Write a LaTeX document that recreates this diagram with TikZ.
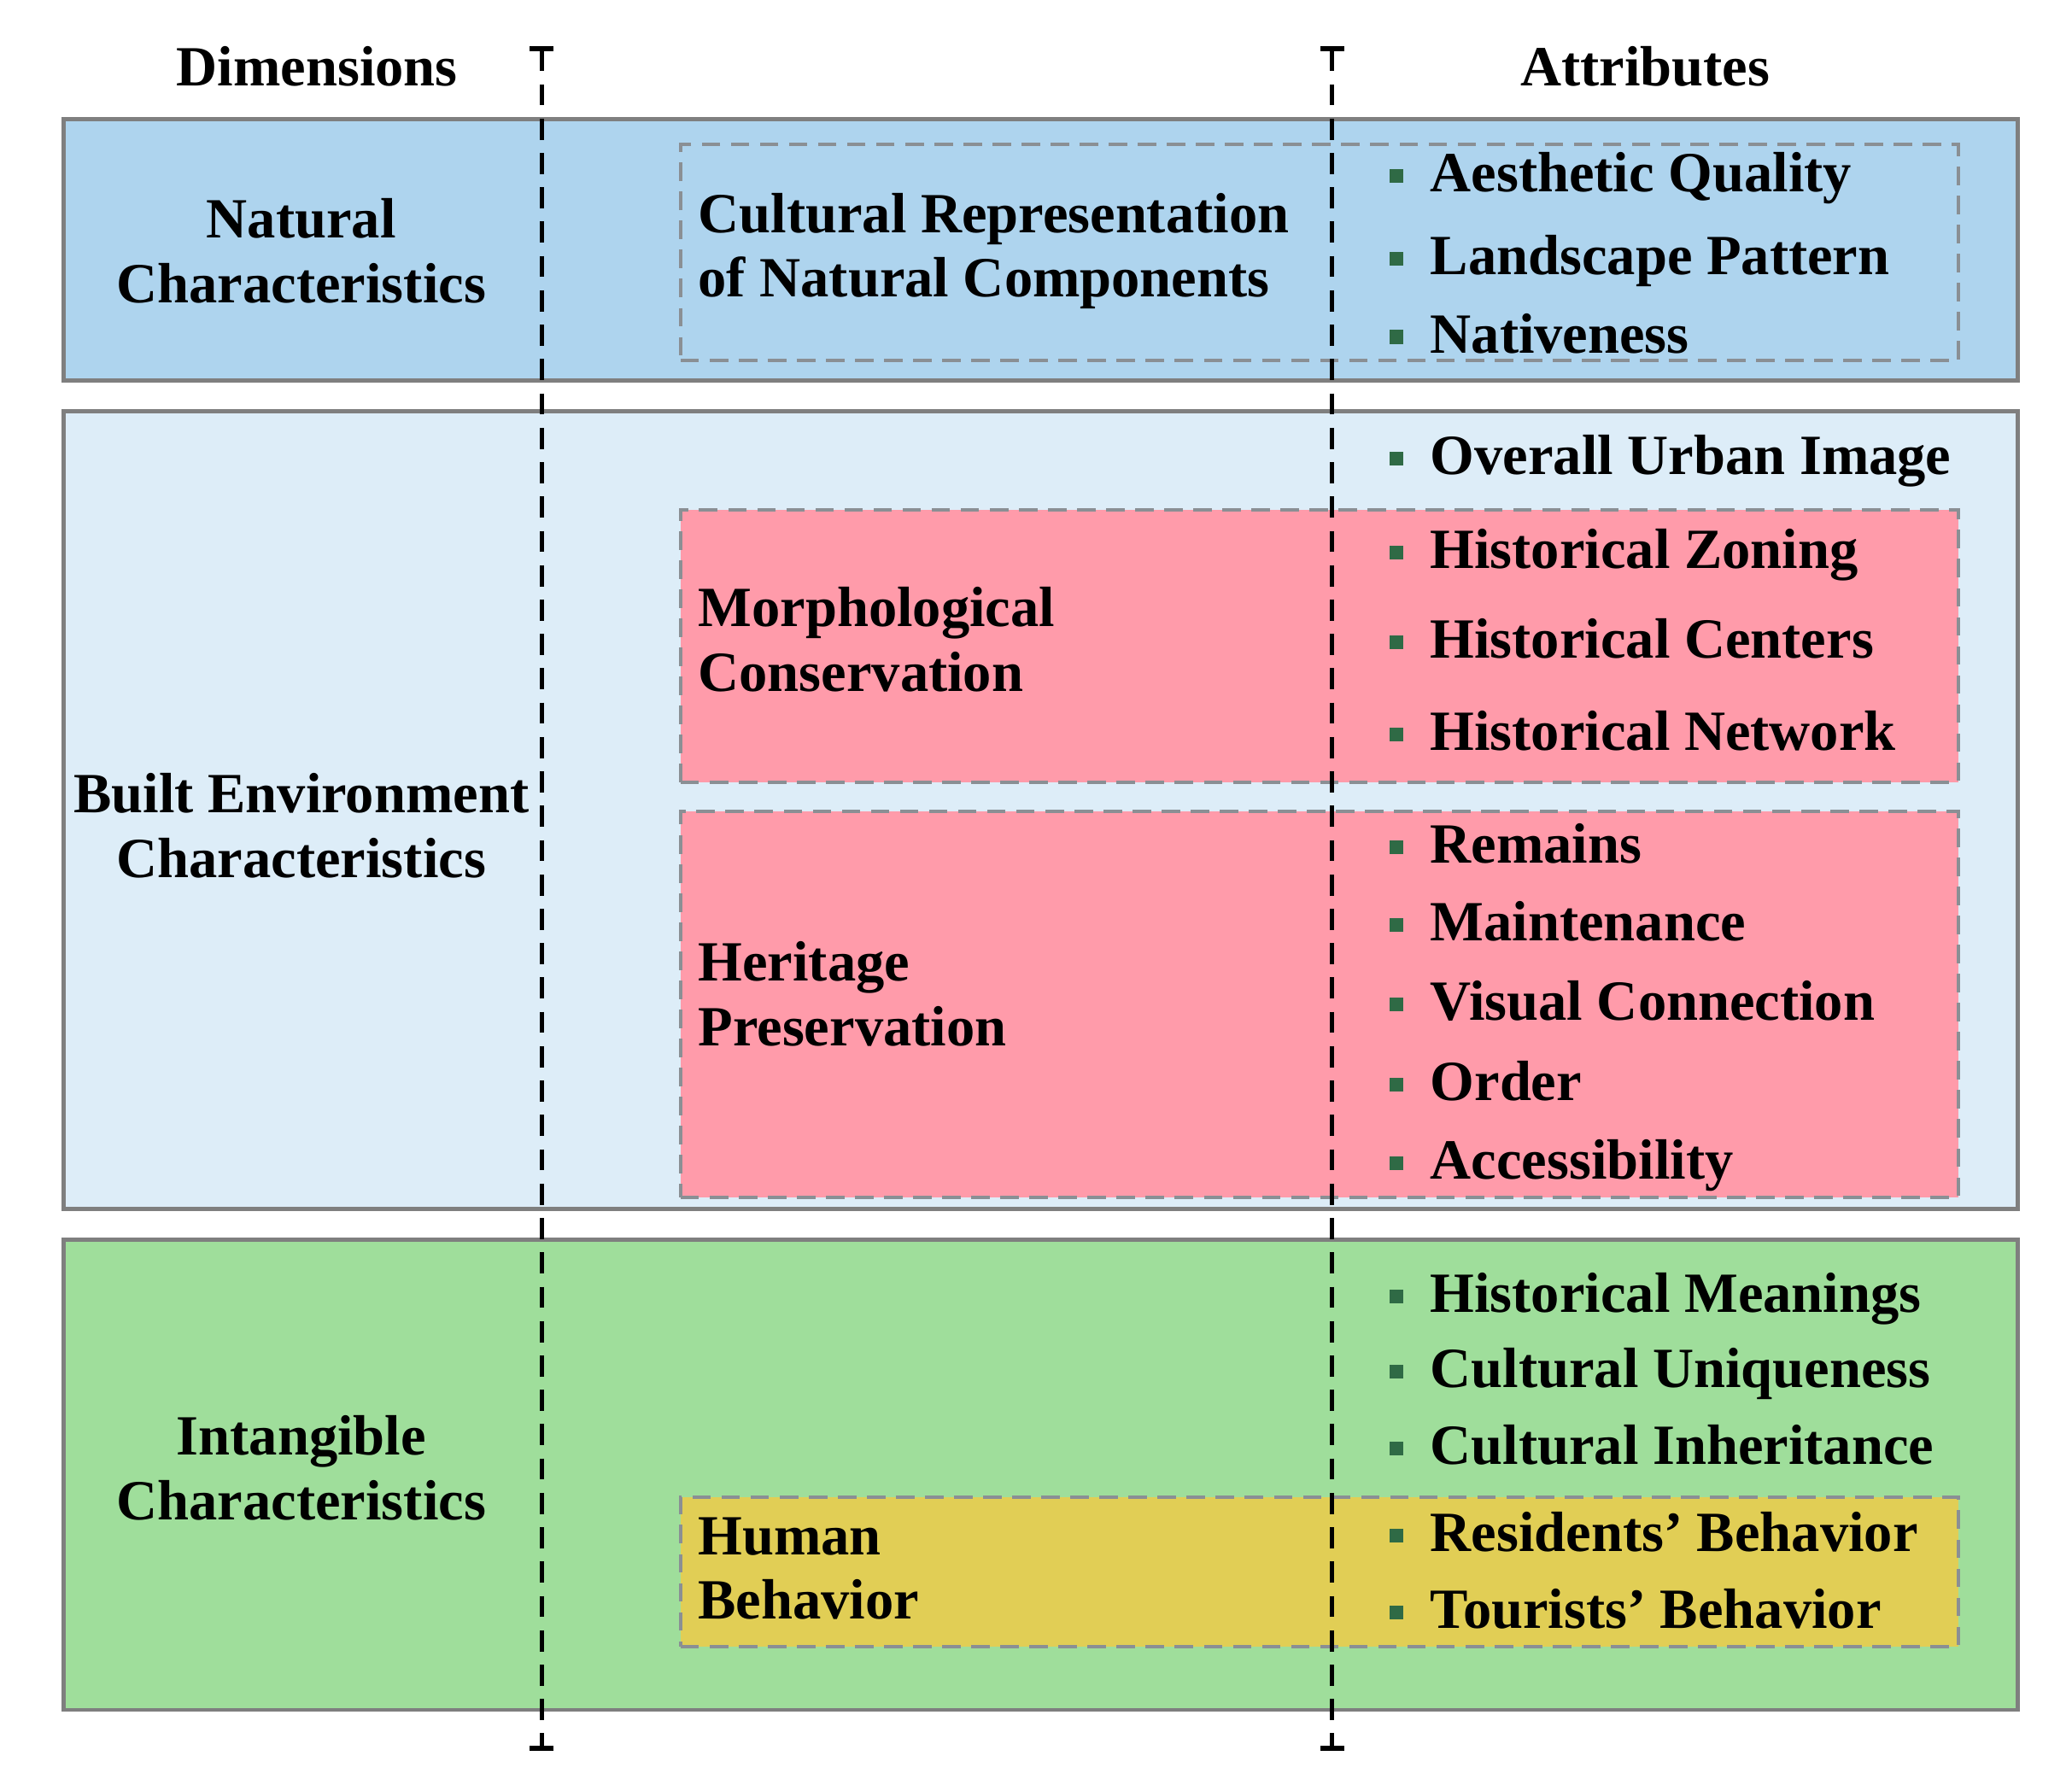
\documentclass[tikz,border=0pt]{standalone}
\usepackage{fontspec}
\setmainfont{Liberation Serif}
\usetikzlibrary{arrows.meta}
\definecolor{natfill}{HTML}{AED4EE}
\definecolor{builtfill}{HTML}{DDEDF8}
\definecolor{intfill}{HTML}{9FDE9B}
\definecolor{pinkfill}{HTML}{FF9BAA}
\definecolor{yelfill}{HTML}{E1CE55}
\definecolor{boxline}{HTML}{7F7F7F}
\definecolor{dashline}{HTML}{8A8F94}
\definecolor{bulletc}{HTML}{2F6A45}
\tikzset{
  bigbox/.style={draw=boxline, line width=1.5pt, rectangle, inner sep=0pt, minimum width=739.5pt},
  subbox/.style={draw=dashline, line width=1.3pt, dash pattern=on 7pt off 4pt, rectangle, inner sep=0pt, minimum width=483.5pt},
  item/.style={anchor=base west, inner sep=0pt},
  bul/.style={fill=bulletc, inner sep=0pt, minimum size=5.2pt, rectangle},
  dimtext/.style={align=center, inner sep=0pt},
  subtext/.style={align=left, anchor=west, inner sep=0pt},
  vline/.style={line width=1.4pt, dash pattern=on 8pt off 5pt, {Bar[width=9pt,line width=1.8pt]}-{Bar[width=9pt,line width=1.8pt]}},
}
\begin{document}
\begin{tikzpicture}[x=0.5pt,y=-0.5pt,font=\fontsize{21.5}{24.5}\selectfont\bfseries]
\useasboundingbox (0,0) rectangle (1568,1355);
% headers
\node[inner sep=0pt,anchor=base] (hdim) at (240,65) {Dimensions};
\node[inner sep=0pt,anchor=base] (hatt) at (1245,65) {Attributes};
% big boxes
\node[bigbox, fill=natfill, minimum height=99pt] (nat) at (787.5,189) {};
\node[bigbox, fill=builtfill, minimum height=302pt] (built) at (787.5,613) {};
\node[bigbox, fill=intfill, minimum height=178pt] (intg) at (787.5,1116) {};
% sub boxes
\node[subbox, minimum height=82pt] (cult) at (998.5,191) {};
\node[subbox, fill=pinkfill, minimum height=103pt] (morph) at (998.5,489) {};
\node[subbox, fill=pinkfill, minimum height=146pt] (herit) at (998.5,760) {};
\node[subbox, fill=yelfill, minimum height=56.5pt] (human) at (998.5,1189.5) {};
% dimension labels
\node[dimtext] (tnat) at (228,190) {Natural\\Characteristics};
\node[dimtext] (tbuilt) at (228,625) {Built Environment\\Characteristics};
\node[dimtext] (tint) at (228,1111) {Intangible\\Characteristics};
% sub labels
\node[subtext] (tcult) at (528,190) {Cultural Representation\\of Natural Components};
\node[subtext] (tmorph) at (528,484) {Morphological\\Conservation};
\node[subtext] (therit) at (528,752) {Heritage\\Preservation};
\node[subtext] (thuman) at (528,1187) {Human\\Behavior};
% attribute items
\foreach \n/\y/\t in {a1/133/Aesthetic Quality, a2/196/Landscape Pattern, a3/255/Nativeness,
  b1/347/Overall Urban Image, b2/418/Historical Zoning, b3/486/Historical Centers, b4/556/Historical Network,
  b5/641/Remains, b6/700/Maintenance, b7/760/Visual Connection, b8/821/Order, b9/880/Accessibility,
  c1/981/Historical Meanings, c2/1038/Cultural Uniqueness, c3/1096/Cultural Inheritance,
  c4/1162/Residents’ Behavior, c5/1220/Tourists’ Behavior}{
  \node[bul] (bul\n) at (1057,\y) {};
  \node[item] (it\n) at (1082,\y+12) {\t};
}
% dashed column dividers
\coordinate (l1t) at (410,35);
\coordinate (l1b) at (410,1325);
\coordinate (l2t) at (1008,35);
\coordinate (l2b) at (1008,1325);
\draw[vline] (l1t) -- (l1b);
\draw[vline] (l2t) -- (l2b);
\end{tikzpicture}
\end{document}
